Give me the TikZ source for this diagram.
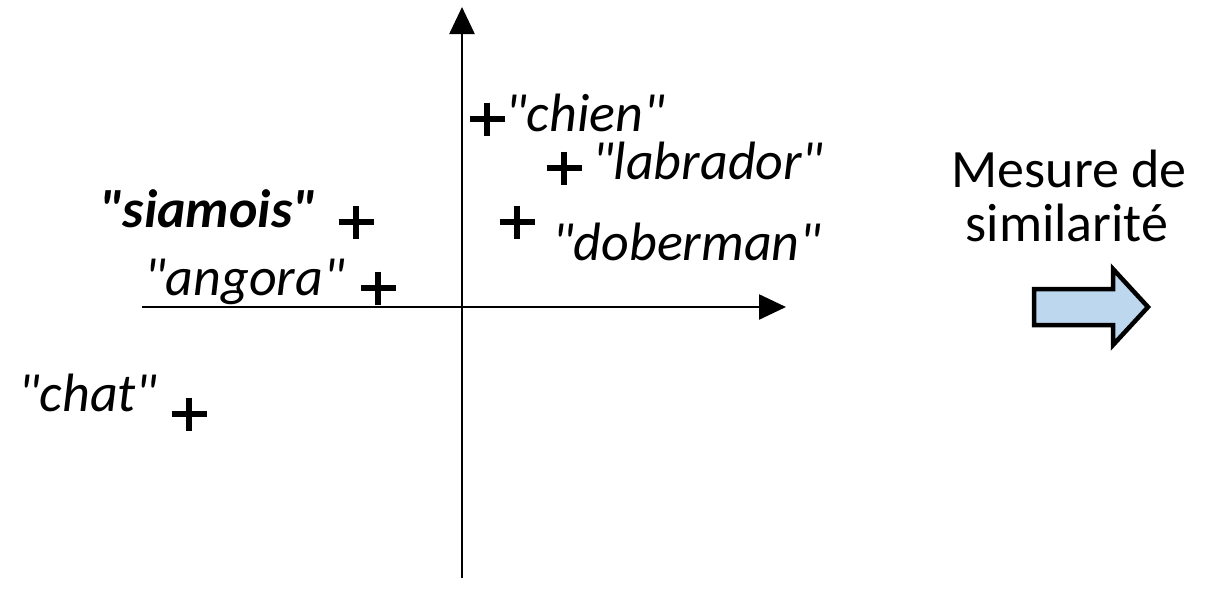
\documentclass[tikz,border=0pt]{standalone}
\usepackage{fontspec}
\setmainfont{Carlito}
\usetikzlibrary{arrows.meta}
\definecolor{arrowfill}{RGB}{189,215,238}
\tikzset{
  axis/.style={line width=2.5pt,-{Triangle[length=27pt,width=25pt]}},
  lbl/.style={anchor=base west,inner sep=0pt,font=\fontsize{54}{60}\selectfont\itshape},
  plusmark/.style={line width=5.5pt},
}
\newcommand{\q}{\textquotedbl}
\newcommand{\plusat}[2]{\draw[plusmark] (#1-17.5,#2) -- (#1+17.5,#2) (#1,#2-16.5) -- (#1,#2+16.5);}
\begin{document}
\begin{tikzpicture}[x=1pt,y=-1pt]
\useasboundingbox (0,0) rectangle (1205,605);
% axes
\coordinate (xs) at (142,307);
\coordinate (xe) at (786,307);
\coordinate (ys) at (462,578);
\coordinate (ye) at (462,7);
\draw[axis] (xs) -- (xe);
\draw[axis] (ys) -- (ye);
% labels
\node[lbl] (chien) at (505,131) {\q chien\q};
\node[lbl] (labrador) at (592,179) {\q labrador\q};
\node[lbl] (doberman) at (552,260) {\q doberman\q};
\node[lbl,font=\fontsize{54}{60}\selectfont\bfseries\itshape] (siamois) at (99,227) {\q siamois\q};
\node[lbl] (angora) at (144,295) {\q angora\q};
\node[lbl] (chat) at (18,411) {\q chat\q};
% plus marks
\plusat{487}{119}
\plusat{564}{168}
\plusat{517}{222}
\plusat{356}{222}
\plusat{378}{288}
\plusat{189}{414}
% text right
\node[anchor=base,inner sep=0pt,font=\fontsize{54}{60}\selectfont] (m1) at (1069,187) {Mesure de};
\node[anchor=base,inner sep=0pt,font=\fontsize{54}{60}\selectfont] (m2) at (1067,241) {similarité};
% block arrow
\draw[line width=4.5pt,fill=arrowfill,line join=miter]
  (1034,289) -- (1113,289) -- (1113,269) -- (1148,307) -- (1113,345) -- (1113,325) -- (1034,325) -- cycle;
\end{tikzpicture}
\end{document}
